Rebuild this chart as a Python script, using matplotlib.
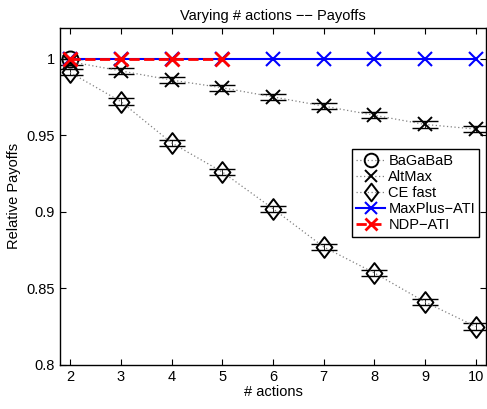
import numpy as np
import matplotlib
matplotlib.use("Agg")
import matplotlib.pyplot as plt
from matplotlib.path import Path

plt.rcParams['font.family'] = ['Liberation Sans', 'DejaVu Sans']
plt.rcParams['font.size'] = 10.5

n_actions = [2, 3, 4, 5, 6, 7, 8, 9, 10]
bagabab_x = [2]
bagabab = [1.0]
altmax = [0.998, 0.992, 0.986, 0.981, 0.975, 0.969, 0.963, 0.957, 0.954]
cefast = [0.991, 0.972, 0.945, 0.926, 0.902, 0.877, 0.860, 0.841, 0.825]
maxplus = [1.0] * 9
ndp_x = [2, 3, 4, 5]
ndp = [1.0, 1.0, 1.0, 1.0]
err = 0.002

# matlab-style diamond, a bit taller than wide
diamond = Path([(0, 1), (0.76, 0), (0, -1), (-0.76, 0), (0, 1)],
               [Path.MOVETO, Path.LINETO, Path.LINETO, Path.LINETO, Path.CLOSEPOLY])
dots = (0, (1, 2))

fig = plt.figure(figsize=(4.87, 4.09), dpi=100)
ax = fig.add_axes([0.123, 0.108, 0.875, 0.8235])

# error bars first, then the lines/markers on top
for xs, ys in [(n_actions, altmax), (n_actions, cefast)]:
    ax.errorbar(xs, ys, yerr=err, fmt='none', ecolor='k', elinewidth=0.6,
                capsize=9.5, capthick=1.0, zorder=2)

ax.plot(bagabab_x, bagabab, linestyle=dots, linewidth=0.9, color='0.5', marker='o', markersize=11.5,
        markerfacecolor='none', markeredgecolor='k', markeredgewidth=1.4, label='BaGaBaB', zorder=3)
ax.plot(n_actions, altmax, linestyle=dots, linewidth=0.9, color='0.5', marker='x', markersize=10.5,
        markeredgecolor='k', markeredgewidth=1.4, label='AltMax', zorder=3)
ax.plot(n_actions, cefast, linestyle=dots, linewidth=0.9, color='0.5', marker=diamond, markersize=15,
        markerfacecolor='none', markeredgecolor='k', markeredgewidth=1.4, label='CE fast', zorder=3)
ax.plot(n_actions, maxplus, linestyle='-', color='b', linewidth=1.5, marker='x', markersize=10,
        markeredgewidth=1.5, label='MaxPlus\u2212ATI', zorder=4)
ax.plot(ndp_x, ndp, linestyle='--', color='r', linewidth=2, marker='x', markersize=10,
        markeredgewidth=2, label='NDP\u2212ATI', zorder=5)

ax.set_xlim(1.8, 10.2)
ax.set_ylim(0.8, 1.02)
ax.set_xticks(n_actions)
ax.set_yticks([0.8, 0.85, 0.9, 0.95, 1.0])
ax.set_yticklabels(['0.8', '0.85', '0.9', '0.95', '1'])
ax.tick_params(direction='in', top=True, right=True, length=4, width=0.8)
for s in ax.spines.values():
    s.set_linewidth(1.0)

ax.set_title('Varying # actions \u2212\u2212 Payoffs', fontsize=10.5, pad=6)
ax.set_xlabel('# actions', labelpad=1)
ax.set_ylabel('Relative Payoffs', labelpad=4)

leg = ax.legend(loc='upper left', bbox_to_anchor=(0.685, 0.64), frameon=True, fancybox=False,
                edgecolor='k', framealpha=1, handlelength=2.0, handletextpad=0.2,
                borderpad=0.3, labelspacing=0.15, borderaxespad=0, markerscale=0.85)
leg.get_frame().set_linewidth(1.0)

fig.savefig('out.png', dpi=100)
